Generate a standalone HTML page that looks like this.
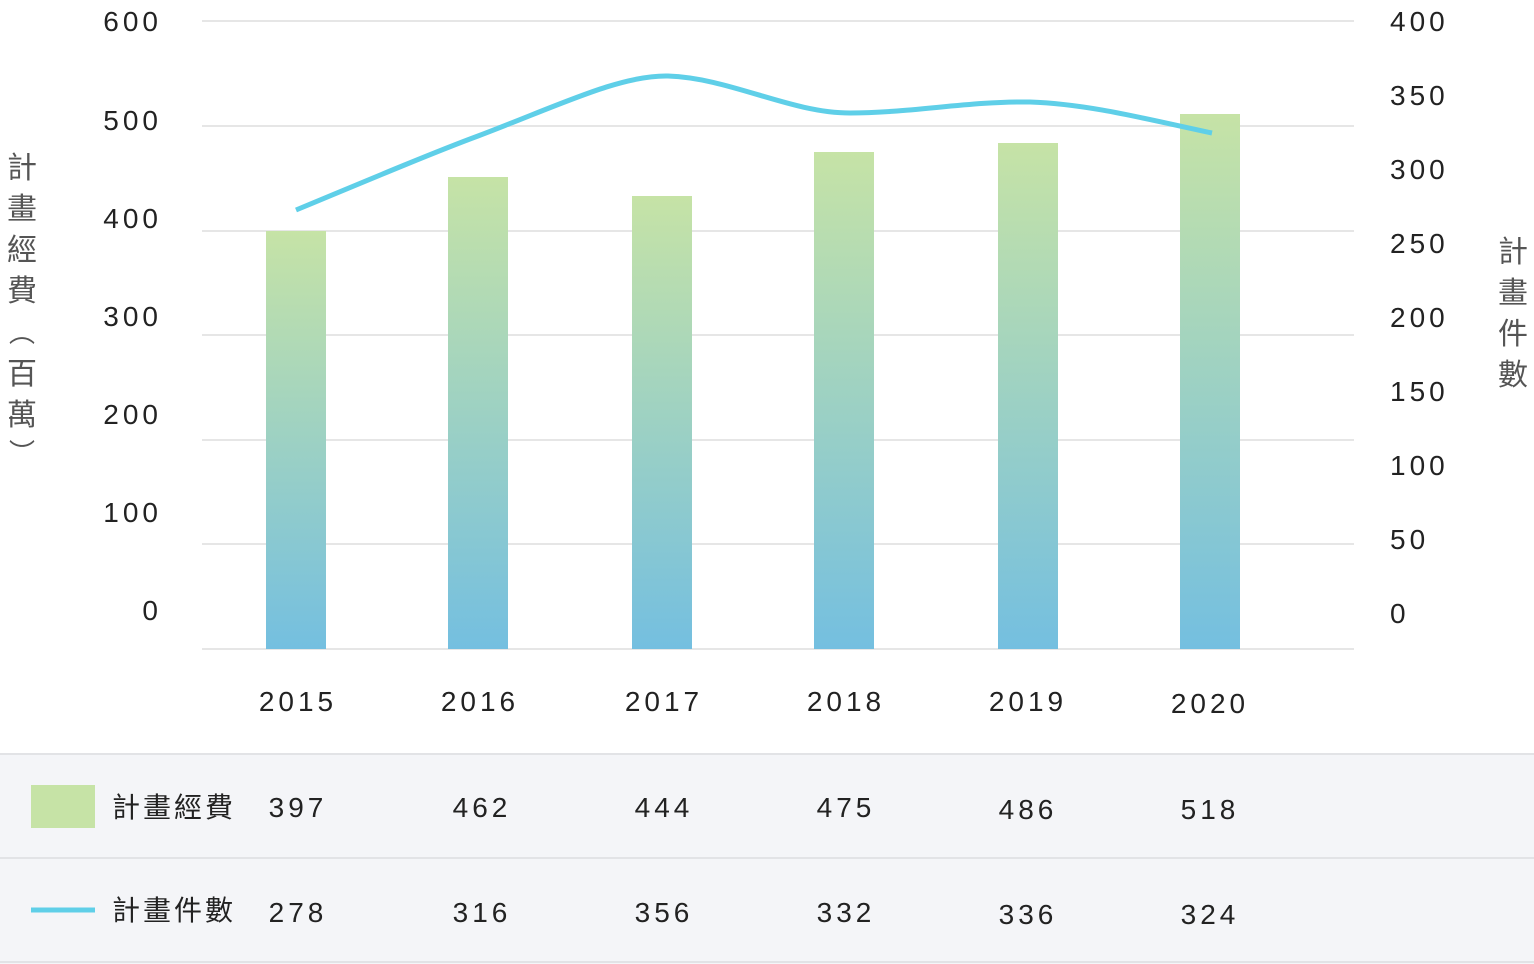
<!DOCTYPE html>
<html><head><meta charset="utf-8"><style>
body{margin:0;background:#fff;width:1534px;height:964px;overflow:hidden;font-family:"Liberation Sans","Noto Sans CJK TC",sans-serif;}
</style></head><body>
<svg width="1534" height="964" xmlns="http://www.w3.org/2000/svg" style="position:absolute;left:0;top:0">
<defs>
<linearGradient id="g" x1="0" y1="0" x2="0" y2="1">
<stop offset="0" stop-color="#c6e3a6"/><stop offset="1" stop-color="#74bfe0"/>
</linearGradient>
</defs>
<g stroke="#e6e6e6" stroke-width="2">
<line x1="202" y1="21" x2="1354" y2="21"/><line x1="202" y1="126" x2="1354" y2="126"/>
<line x1="202" y1="231" x2="1354" y2="231"/><line x1="202" y1="335" x2="1354" y2="335"/>
<line x1="202" y1="440" x2="1354" y2="440"/><line x1="202" y1="544" x2="1354" y2="544"/>
<line x1="202" y1="649" x2="1354" y2="649"/>
</g>
<g fill="url(#g)">
<rect x="266" y="231" width="60" height="418"/>
<rect x="448" y="177" width="60" height="472"/>
<rect x="632" y="196" width="60" height="453"/>
<rect x="814" y="152" width="60" height="497"/>
<rect x="998" y="143" width="60" height="506"/>
<rect x="1180" y="114" width="60" height="535"/>
</g>
<path d="M296,210 C380,175 440,150 478,136 C560,105 620,75 668,76 C730,78 790,113 850,113 C910,113 970,101 1030,102 C1090,104 1150,120 1212,133" fill="none" stroke="#5fcfe8" stroke-width="5"/>
<g font-size="28" fill="#222" text-anchor="end" letter-spacing="4">
<text x="162" y="31">600</text><text x="162" y="130">500</text><text x="162" y="228">400</text>
<text x="162" y="326">300</text><text x="162" y="424">200</text><text x="162" y="522">100</text><text x="162" y="620">0</text>
</g>
<g font-size="28" fill="#222" letter-spacing="4">
<text x="1390" y="31">400</text><text x="1390" y="105">350</text><text x="1390" y="179">300</text>
<text x="1390" y="253">250</text><text x="1390" y="327">200</text><text x="1390" y="401">150</text>
<text x="1390" y="475">100</text><text x="1390" y="549">50</text><text x="1390" y="623">0</text>
</g>
<g font-size="28" fill="#222" text-anchor="middle" letter-spacing="4">
<text x="298" y="711">2015</text><text x="480" y="711">2016</text><text x="664" y="711">2017</text>
<text x="846" y="711">2018</text><text x="1028" y="711">2019</text><text x="1210" y="713">2020</text>
</g>
<g font-size="30" fill="#555" text-anchor="middle">
<text x="22" y="178">計</text><text x="22" y="219">畫</text><text x="22" y="260">經</text><text x="22" y="301">費</text>
<text x="22" y="342" font-size="26">︵</text><text x="22" y="384">百</text><text x="22" y="425">萬</text><text x="22" y="462" font-size="26">︶</text>
<text x="1513" y="262">計</text><text x="1513" y="303">畫</text><text x="1513" y="344">件</text><text x="1513" y="385">數</text>
</g>
<rect x="0" y="753" width="1534" height="211" fill="#f4f5f8"/>
<line x1="0" y1="754" x2="1534" y2="754" stroke="#e2e3e6" stroke-width="2"/>
<line x1="0" y1="858" x2="1534" y2="858" stroke="#e2e3e6" stroke-width="2"/>
<line x1="0" y1="962" x2="1534" y2="962" stroke="#e2e3e6" stroke-width="2"/>
<rect x="31" y="785" width="64" height="43" fill="#c6e3a6"/>
<line x1="31" y1="910" x2="95" y2="910" stroke="#5fcfe8" stroke-width="5"/>
<g font-size="28" fill="#222" letter-spacing="3">
<text x="112" y="817">計畫經費</text><text x="112" y="920">計畫件數</text>
</g>
<g font-size="28" fill="#222" text-anchor="middle" letter-spacing="4">
<text x="298" y="817">397</text><text x="482" y="817">462</text><text x="664" y="817">444</text>
<text x="846" y="817">475</text><text x="1028" y="819">486</text><text x="1210" y="819">518</text>
<text x="298" y="922">278</text><text x="482" y="922">316</text><text x="664" y="922">356</text>
<text x="846" y="922">332</text><text x="1028" y="924">336</text><text x="1210" y="924">324</text>
</g>
</svg>
</body></html>
